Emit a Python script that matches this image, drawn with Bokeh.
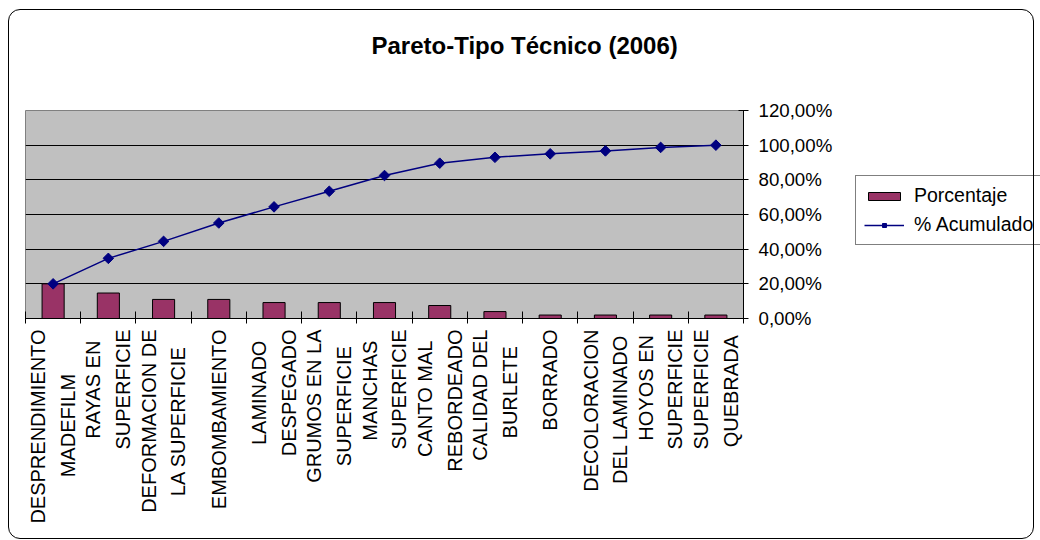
import math
from bokeh.plotting import figure
from bokeh.layouts import row
from bokeh.models import Range1d, FixedTicker, Legend, LegendItem, InlineStyleSheet, Title
from bokeh.embed import file_html
from bokeh.resources import INLINE

categories = [
    "DESPRENDIMIENTO\nMADEFILM",
    "RAYAS EN\nSUPERFICIE",
    "DEFORMACION DE\nLA SUPERFICIE",
    "EMBOMBAMIENTO",
    "LAMINADO\nDESPEGADO",
    "GRUMOS EN LA\nSUPERFICIE",
    "MANCHAS\nSUPERFICIE",
    "CANTO MAL\nREBORDEADO",
    "CALIDAD DEL\nBURLETE",
    "BORRADO",
    "DECOLORACION\nDEL LAMINADO",
    "HOYOS EN\nSUPERFICIE",
    "SUPERFICIE\nQUEBRADA",
]
porcentaje = [20.0, 14.7, 11.0, 11.0, 9.2, 9.2, 9.2, 7.5, 4.0, 2.0, 2.0, 2.0, 2.0]
acumulado = [20.0, 34.7, 44.5, 55.1, 64.4, 73.4, 82.5, 89.6, 93.0, 95.0, 96.7, 98.7, 100.0]
y_ticks = [0, 20, 40, 60, 80, 100, 120]
y_tick_labels = ["0,00%", "20,00%", "40,00%", "60,00%", "80,00%", "100,00%", "120,00%"]
title_text = "Pareto-Tipo Técnico (2006)"
series_names = ["Porcentaje", "% Acumulado"]

FONT = "Liberation Sans"
n = len(categories)
xs = [i + 0.5 for i in range(n)]

# approximate Arial advance widths (em) to centre the lines of a rotated label
_W = dict(zip("ABCDEFGHIJKLMNOPQRSTUVWXYZ ",
              [.667, .667, .722, .722, .667, .611, .778, .722, .278, .5, .667, .556, .833,
               .722, .778, .667, .778, .722, .667, .611, .722, .667, .944, .667, .667, .611, .278]))


def centred(label):
    lines = label.split("\n")
    if len(lines) < 2:
        return label
    widths = [sum(_W.get(ch, .6) for ch in ln) for ln in lines]
    wmax = max(widths)
    out = []
    for ln, w in zip(lines, widths):
        pad = int(round((wmax - w) / 2 / 0.278))
        out.append(ln + "\u00a0" * pad)
    return "\n".join(out)


p = figure(frame_width=718, frame_height=208, output_backend="svg", toolbar_location=None,
           x_range=Range1d(0, n), y_range=Range1d(0, 120), y_axis_location="right",
           min_border_left=25, min_border_right=112, min_border_top=110, min_border_bottom=222)

p.background_fill_color = "#C0C0C0"
p.border_fill_color = "white"
p.outline_line_color = "#808080"
p.outline_line_width = 1

# spacer between title and plot area (closest to the frame)
p.add_layout(Title(text=" ", text_font_size="10px", standoff=39), "above")

# title
p.title.text = title_text
p.title.text_font = FONT
p.title.text_font_size = "24px"
p.title.text_font_style = "bold"
p.title.text_color = "black"
p.title.align = "left"
p.title.offset = 346
p.title.standoff = 0

# x axis
xa = p.xaxis[0]
xa.ticker = FixedTicker(ticks=xs, minor_ticks=list(range(n + 1)))
xa.major_label_overrides = {x: centred(c) for x, c in zip(xs, categories)}
xa.major_label_orientation = math.pi / 2
xa.major_label_text_font = FONT
xa.major_label_text_font_size = "20px"
xa.major_label_text_color = "black"
xa.major_label_text_line_height = 1.35
xa.major_label_standoff = 6
xa.major_tick_in = 0
xa.major_tick_out = 0
xa.minor_tick_in = 7
xa.minor_tick_out = 5
xa.minor_tick_line_color = "black"
xa.axis_line_color = "black"

# y axis (right)
ya = p.yaxis[0]
ya.ticker = FixedTicker(ticks=y_ticks)
ya.major_label_overrides = {t: l for t, l in zip(y_ticks, y_tick_labels)}
ya.major_label_text_font = FONT
ya.major_label_text_font_size = "18.7px"
ya.major_label_text_color = "black"
ya.major_label_standoff = 10
ya.major_tick_in = 5
ya.major_tick_out = 5
ya.minor_tick_line_color = None
ya.axis_line_color = "black"

p.xgrid.visible = False
p.ygrid.ticker = FixedTicker(ticks=[20, 40, 60, 80, 100])
p.ygrid.grid_line_color = "black"
p.ygrid.grid_line_width = 1

BAR_STYLE = dict(fill_color="#993366", line_color="black", line_width=1)
LINE_STYLE = dict(line_color="#000080", line_width=1.5)
MARK_STYLE = dict(marker="square", size=7.5, angle=math.pi / 4,
                  fill_color="#000080", line_color="#000080")

p.vbar(x=xs, top=porcentaje, width=0.4, **BAR_STYLE)
p.line(xs, acumulado, **LINE_STYLE)
p.scatter(xs, acumulado, **MARK_STYLE)

# legend panel (separate figure so it can sit outside the plot frame);
# its renderers use the same series but are scrolled out of view
lf = figure(width=185, height=540, output_backend="svg", toolbar_location=None,
            x_range=Range1d(-40, -39), y_range=Range1d(0, 120),
            x_axis_location=None, y_axis_location=None, min_border=0)
lf.grid.visible = False
lf.outline_line_color = None
lf.background_fill_color = "white"
lf.border_fill_color = "white"
lb = lf.vbar(x=xs, top=porcentaje, width=0.4, **BAR_STYLE)
ll = lf.line(xs, acumulado, **LINE_STYLE)
ls = lf.scatter(xs, acumulado, **MARK_STYLE)

legend = Legend(items=[LegendItem(label=series_names[0], renderers=[lb]),
                       LegendItem(label=series_names[1], renderers=[ll, ls])],
                location=(0, 73))
legend.label_text_font = FONT
legend.label_text_font_size = "19.5px"
legend.label_text_color = "black"
legend.glyph_width = 40
legend.glyph_height = 10
legend.label_standoff = 10
legend.border_line_color = "black"
legend.background_fill_color = "white"
legend.background_fill_alpha = 1
legend.padding = 8
legend.spacing = 6
legend.margin = 0
lf.add_layout(legend, "center")

layout = row(p, lf)
layout.stylesheets = [InlineStyleSheet(css=(
    ":host { position: relative; }"
    ":host::after { content: ''; position: absolute; left: 8px; top: 9px; "
    "width: 1026px; height: 530px; border: 1px solid black; border-radius: 12px; "
    "pointer-events: none; box-sizing: border-box; }"
))]

open("out.html", "w").write(file_html(layout, INLINE))
